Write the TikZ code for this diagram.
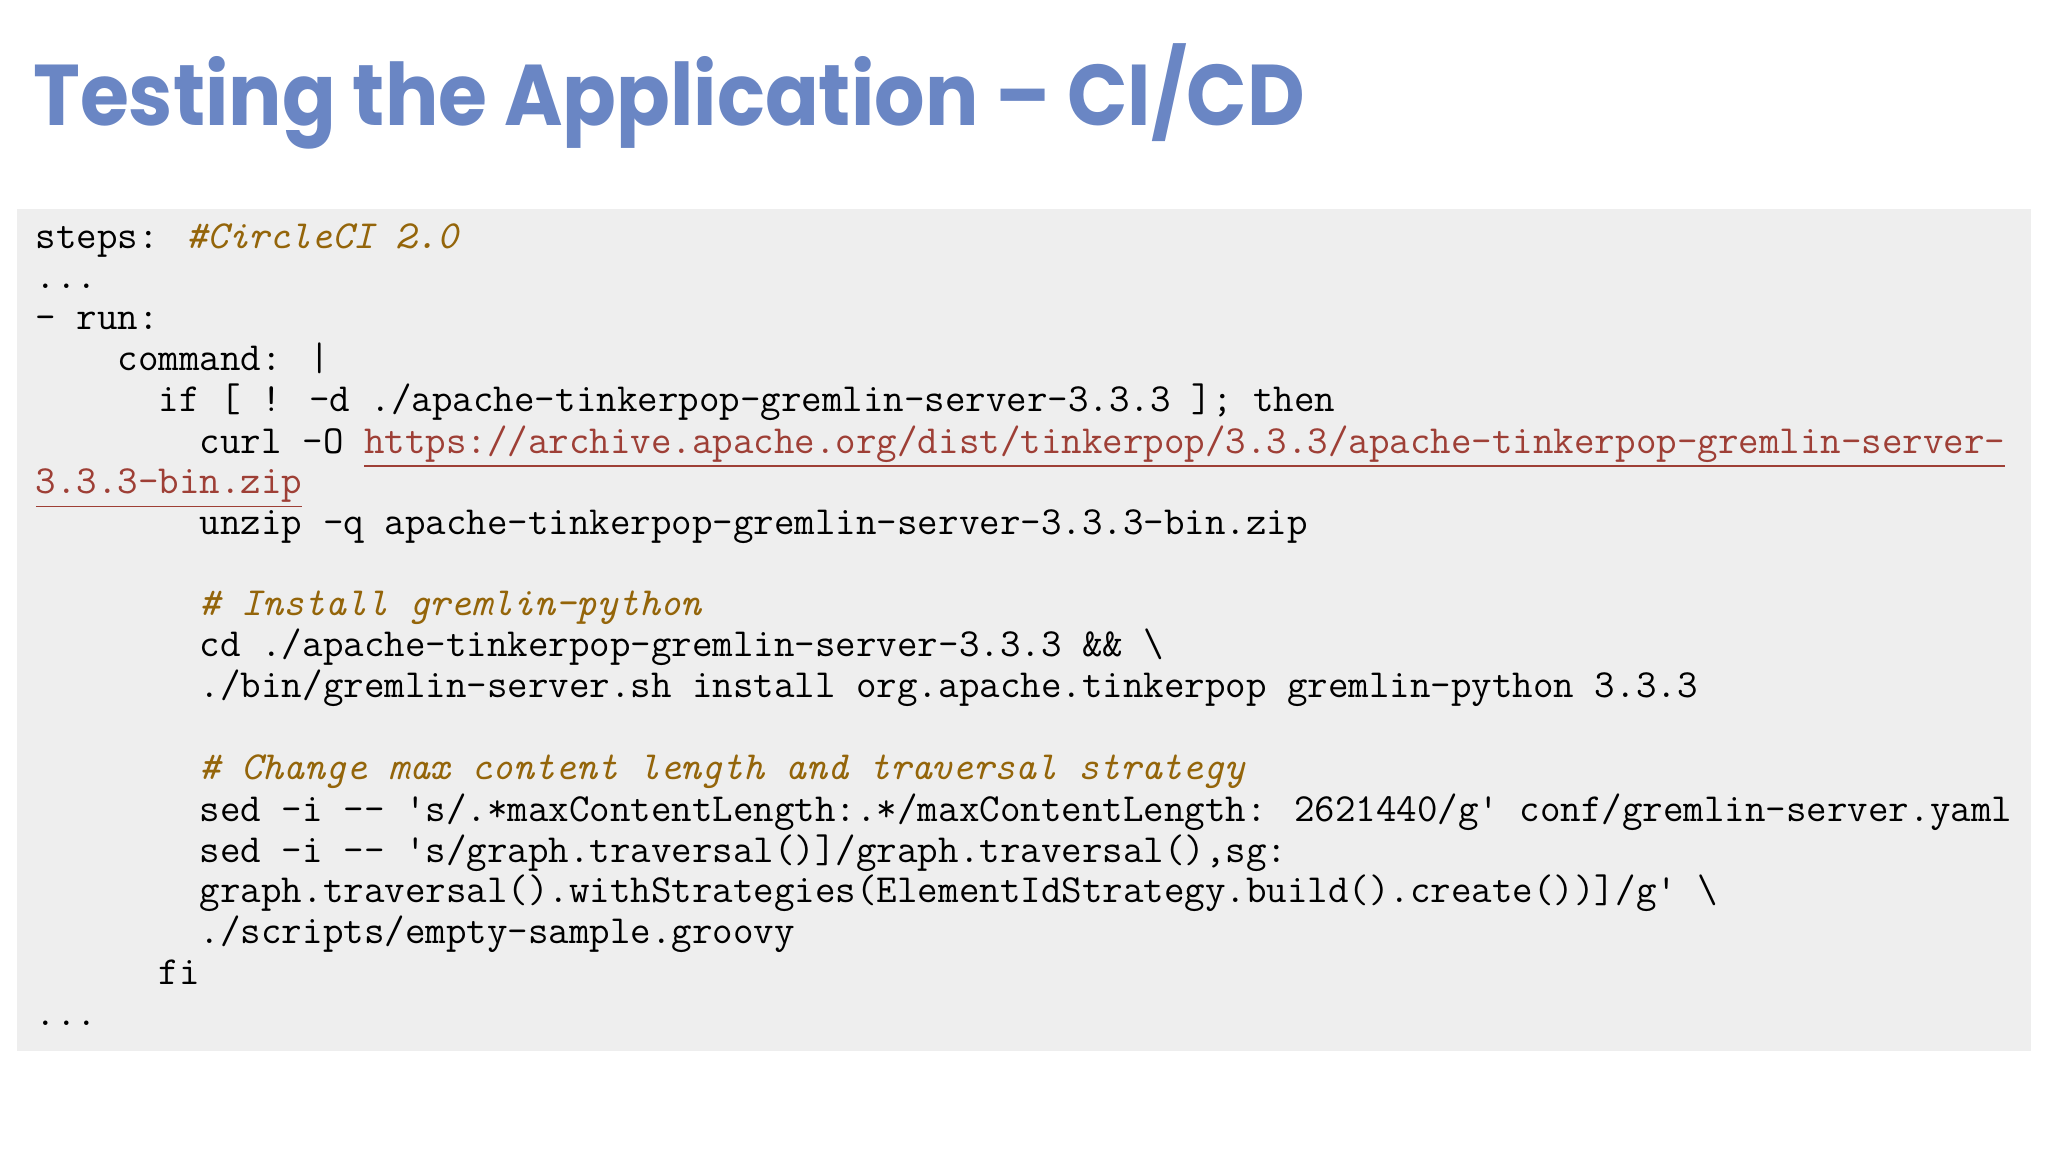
\documentclass[tikz,border=0pt]{standalone}
\usepackage{fontspec}
\setmainfont{Poppins}
\definecolor{titleblue}{HTML}{6A86C4}
\definecolor{codebg}{HTML}{EEEEEE}
\definecolor{cmt}{HTML}{94650A}
\definecolor{url}{HTML}{9E3F36}
\newcommand{\cm}[1]{\textcolor{cmt}{\itshape #1}}
\newcommand{\ul}[1]{\textcolor{url}{\underline{#1}}}
\newcommand{\q}{\textquotesingle}
\tikzset{
  code/.style={anchor=base west,inner sep=0pt,font=\ttfamily\fontsize{15.25}{15}\selectfont},
}
\begin{document}
\begin{tikzpicture}[x=0.5pt,y=-0.5pt]
\useasboundingbox (0,0) rectangle (1568,882);
\fill[white] (0,0) rectangle (1568,882);
\node[anchor=base west,inner sep=0pt,text=titleblue,xscale=0.92,font=\bfseries\fontsize{33}{33}\selectfont] (title) at (25,96) {Testing the Application -- CI/CD};
\fill[codebg] (13,160) rectangle (1555,805);
\node[code] (l1) at (27,190) {steps: \cm{\#CircleCI 2.0}};
\node[code] (l2) at (27,221) {...};
\node[code] (l3) at (27,252) {- run:};
\node[code] (l4) at (27,284) {\ \ \ \ command: |};
\node[code] (l5) at (27,315) {\ \ \ \ \ \ if [ ! -d ./apache-tinkerpop-gremlin-server-3.3.3 ]; then};
\node[code] (l6) at (27,347) {\ \ \ \ \ \ \ \ curl -O \ul{https://archive.apache.org/dist/tinkerpop/3.3.3/apache-tinkerpop-gremlin-server-}};
\node[code] (l7) at (27,378) {\ul{3.3.3-bin.zip}};
\node[code] (l8) at (27,409) {\ \ \ \ \ \ \ \ unzip -q apache-tinkerpop-gremlin-server-3.3.3-bin.zip};
\node[code] (l10) at (27,471) {\ \ \ \ \ \ \ \ \cm{\# Install gremlin-python}};
\node[code] (l11) at (27,503) {\ \ \ \ \ \ \ \ cd ./apache-tinkerpop-gremlin-server-3.3.3 \&\& \textbackslash};
\node[code] (l12) at (27,534) {\ \ \ \ \ \ \ \ ./bin/gremlin-server.sh install org.apache.tinkerpop gremlin-python 3.3.3};
\node[code] (l14) at (27,597) {\ \ \ \ \ \ \ \ \cm{\# Change max content length and traversal strategy}};
\node[code] (l15) at (27,629) {\ \ \ \ \ \ \ \ sed -i -- \q s/.*maxContentLength:.*/maxContentLength: 2621440/g\q\ conf/gremlin-server.yaml};
\node[code] (l16) at (27,660) {\ \ \ \ \ \ \ \ sed -i -- \q s/graph.traversal()]/graph.traversal(),sg:};
\node[code] (l17) at (27,691) {\ \ \ \ \ \ \ \ graph.traversal().withStrategies(ElementIdStrategy.build().create())]/g\q\ \textbackslash};
\node[code] (l18) at (27,722) {\ \ \ \ \ \ \ \ ./scripts/empty-sample.groovy};
\node[code] (l19) at (27,754) {\ \ \ \ \ \ fi};
\node[code] (l20) at (27,785) {...};
\end{tikzpicture}
\end{document}
